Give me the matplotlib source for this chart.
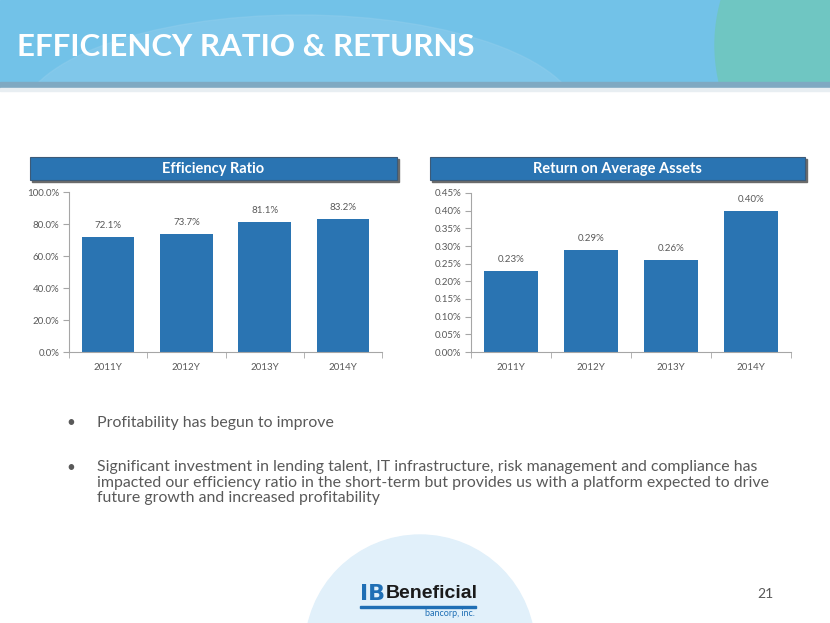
import numpy as np
import matplotlib
matplotlib.use("Agg")
import matplotlib.pyplot as plt
from matplotlib.patches import Rectangle, Circle, Ellipse

plt.rcParams['font.family'] = ['Lato', 'DejaVu Sans']

years = ['2011Y', '2012Y', '2013Y', '2014Y']
efficiency = [72.1, 73.7, 81.1, 83.2]
roaa = [0.23, 0.29, 0.26, 0.40]
eff_ticks = [0, 20, 40, 60, 80, 100]
roaa_ticks = [0.00, 0.05, 0.10, 0.15, 0.20, 0.25, 0.30, 0.35, 0.40, 0.45]
bullets = [
    "Profitability has begun to improve",
    "Significant investment in lending talent, IT infrastructure, risk management and compliance has\n"
    "impacted our efficiency ratio in the short-term but provides us with a platform expected to drive\n"
    "future growth and increased profitability",
]

W, H = 830, 623
BAR = '#2a74b2'
GRAY = '#595959'

fig = plt.figure(figsize=(W / 100, H / 100), dpi=100)


def px(x0, y0, x1, y1):
    # pixel box (top-left origin) -> figure fraction
    return [x0 / W, 1 - y1 / H, (x1 - x0) / W, (y1 - y0) / H]


# background and header
bg = fig.add_axes([0, 0, 1, 1])
bg.set_xlim(0, W)
bg.set_ylim(H, 0)
bg.axis('off')
bg.add_patch(Circle((420, 650), 115, color='#e1f0fa', zorder=0))
header = Rectangle((0, 0), W, 86, color='#72c2e8', zorder=1)
bg.add_patch(header)
for p in [Ellipse((300, 120), 560, 210, color='#8fcdec', alpha=0.5, zorder=1),
          Circle((880, 45), 165, color='#6fc6c2', zorder=2)]:
    bg.add_patch(p)
    p.set_clip_path(header)
bg.add_patch(Rectangle((0, 82), W, 6, color='#7fa9c2', zorder=2))
bg.add_patch(Rectangle((0, 88), W, 3, color='#e8eef2', zorder=2))
bg.text(17, 47, "EFFICIENCY RATIO & RETURNS", color='white', fontsize=22.5,
        fontweight='bold', va='center', ha='left', zorder=3)

# chart title boxes
for (x0, x1), title in [((30, 397), "Efficiency Ratio"), ((430, 805), "Return on Average Assets")]:
    bg.add_patch(Rectangle((x0 + 2, 159), x1 - x0, 23, color='#6b6b6b', zorder=2))
    bg.add_patch(Rectangle((x0, 157), x1 - x0, 23, facecolor=BAR, edgecolor='#3c5a78',
                           lw=0.8, zorder=3))
    bg.text((x0 + x1) / 2, 169, title, color='white', fontsize=10.5, fontweight='bold',
            ha='center', va='center', zorder=4)


def bar_chart(box, values, ticks, ymax, fmt, lblfmt):
    ax = fig.add_axes(px(*box))
    x = np.arange(len(years))
    ax.bar(x, values, width=0.67, color=BAR)
    ax.set_xlim(-0.5, len(years) - 0.5)
    ax.set_ylim(0, ymax)
    ax.set_yticks(ticks)
    ax.set_yticklabels([fmt.format(t) for t in ticks])
    ax.set_xticks(x)
    ax.set_xticklabels(years)
    ax.set_xticks(np.arange(len(years) + 1) - 0.5, minor=True)
    ax.tick_params(axis='x', which='major', length=0, pad=8, labelsize=7, labelcolor=GRAY)
    ax.tick_params(axis='x', which='minor', length=4, color='#a6a6a6')
    ax.tick_params(axis='y', length=4, color='#a6a6a6', labelsize=7, labelcolor=GRAY, pad=3)
    for s in ['top', 'right']:
        ax.spines[s].set_visible(False)
    for s in ['left', 'bottom']:
        ax.spines[s].set_color('#a6a6a6')
    for i, v in enumerate(values):
        ax.annotate(lblfmt.format(v), (i, v), xytext=(0, 5), textcoords='offset points',
                    ha='center', va='bottom', fontsize=7, color=GRAY)
    ax.patch.set_alpha(0)
    return ax


bar_chart((69, 192, 382, 352), efficiency, eff_ticks, 100, "{:.1f}%", "{:.1f}%")
bar_chart((471, 193, 791, 352), roaa, roaa_ticks, 0.45, "{:.2f}%", "{:.2f}%")

# bullets
bg.text(66, 423, "\u2022", color=GRAY, fontsize=11, va='center')
bg.text(97, 423, bullets[0], color=GRAY, fontsize=11.4, va='center')
bg.text(66, 468, "\u2022", color=GRAY, fontsize=11, va='center')
bg.text(97, 460, bullets[1], color=GRAY, fontsize=11.4, va='top', linespacing=1.15)

# logo and page number
bg.text(360, 594, "IB", color='#1f6fb5', fontsize=16, fontweight='bold', va='center',
        ha='left', family='DejaVu Sans')
bg.text(386, 594, "Beneficial", color='#1a1a1a', fontsize=14, fontweight='bold',
        va='center', ha='left', family='Liberation Sans')
bg.add_patch(Rectangle((360, 606), 116, 1.5, color='#1f6fb5'))
bg.text(475, 614, "bancorp, inc.", color='#1f6fb5', fontsize=6.5, ha='right', va='center')
bg.text(765, 594, "21", color=GRAY, fontsize=10, ha='center', va='center')

fig.savefig("out.png", dpi=100)
